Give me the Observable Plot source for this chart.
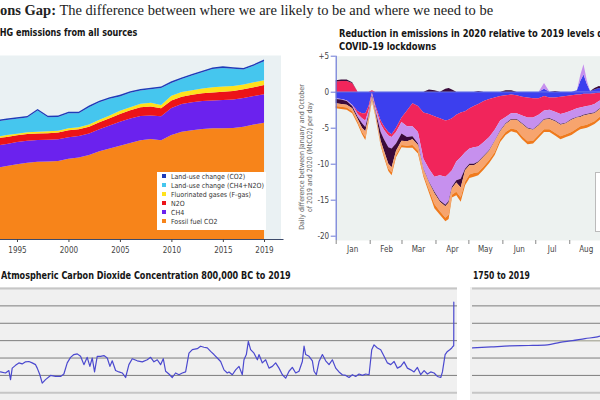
<!DOCTYPE html>
<html><head><meta charset="utf-8">
<script src="https://cdn.jsdelivr.net/npm/d3@7"></script>
<script src="https://cdn.jsdelivr.net/npm/@observablehq/plot@0.6"></script>
<style>
html,body{margin:0;padding:0;background:#fff;}
body{width:600px;height:400px;overflow:hidden;position:relative;}
.abs{position:absolute;white-space:nowrap;}
.cond{font-family:"Liberation Sans Narrow","DejaVu Sans Condensed","Roboto Condensed","Roboto",sans-serif;}
.ttl{font-weight:bold;font-size:10px;color:#151515;line-height:13px;transform:scaleX(0.9);transform-origin:0 0;}
.main{font-family:"Liberation Serif","DejaVu Serif",serif;font-size:14.5px;color:#222;line-height:16px;}
.leg{background:#fff;font-size:7px;color:#333;line-height:9px;}
.leg div{height:9px;}
.sw{display:inline-block;width:4px;height:4px;margin-right:5px;vertical-align:middle;position:relative;top:-1px;}
</style></head><body>
<div class="abs main" data-cut="0" style="top:2px"><b><span class="cut">Emissi</span>ons Gap:</b> The difference between where we are likely to be and where we need to be</div>
<div class="abs cond ttl" data-cut="0" style="top:26px"><span class="cut">G</span>HG emissions from all sources</div>
<div class="abs cond ttl" style="left:339px;top:27px;transform:scaleX(0.93)">Reduction in emissions in 2020 relative to 2019 levels due to<br>COVID-19 lockdowns</div>
<div class="abs cond ttl" style="left:1px;top:269px">Atmospheric Carbon Dioxide Concentration 800,000 BC to 2019</div>
<div class="abs cond ttl" style="left:473px;top:269px;transform:scaleX(0.85)">1750 to 2019</div>
<div id="p1" class="abs" style="left:-45px;top:45px;width:331px"></div>
<div id="p2" class="abs" style="left:300px;top:45px;width:437px"></div>
<div id="p3" class="abs" style="left:-60px;top:287px;width:517px"></div>
<div id="p4" class="abs" style="left:470px;top:287px;width:177px"></div>
<div id="leg1" class="abs cond leg" style="left:157px;top:172px;width:104px;height:57px;padding:1px 0 0 5px"></div>
<div id="leg2" class="abs cond leg" style="left:595px;top:172px;width:100px;height:56px;border:1px solid #bbb;padding:2px 0 0 6px"></div>
<div class="abs cond" style="left:228px;top:149px;width:156px;transform:rotate(-90deg);transform-origin:center;text-align:center;font-size:7px;line-height:8px;color:#666">Daily difference between January and October<br>of 2019 and 2020 (MtCO2) per day</div>
<script>
// ---------- Panel 1: GHG emissions (GtCO2e) ----------
const ghgYears = [1990,1991,1992,1993,1994,1995,1996,1997,1998,1999,2000,2001,2002,2003,2004,2005,2006,2007,2008,2009,2010,2011,2012,2013,2014,2015,2016,2017,2018,2019];
const fossilCO2 = [22.6,22.9,22.8,23.2,23.8,24.4,24.9,25.2,25.3,25.4,26.2,26.6,27.4,28.6,29.5,30.4,31.3,32.2,32.6,32.2,33.9,35.0,35.5,35.9,36.1,36.1,36.2,36.6,37.3,37.9];
const ch4 = [7.4,7.3,7.4,7.3,7.2,7.2,7.1,7.1,7.1,7.1,7.0,7.0,7.0,7.2,7.5,7.8,8.0,7.9,7.7,7.8,8.8,9.0,9.1,9.1,9.1,9.2,9.3,9.4,9.3,9.3];
const n2o = [2.2,2.2,2.2,2.3,2.3,2.2,2.2,2.1,2.1,2.2,2.3,2.2,2.2,2.3,2.4,2.6,2.7,2.9,2.9,2.6,2.5,2.4,2.4,2.5,2.6,2.7,2.8,2.8,2.9,3.0];
const fGas = [0.5,0.5,0.5,0.5,0.6,0.5,0.6,0.6,0.6,0.6,0.6,0.6,0.7,0.8,0.9,1.0,1.0,1.1,1.2,1.1,1.5,1.5,1.5,1.6,1.7,1.7,1.6,1.6,1.6,1.6];
const lucOther = [5.2,5.2,5.1,5.0,4.9,4.9,4.8,6.9,4.6,4.5,4.9,4.6,5.7,5.7,5.4,4.7,4.7,4.3,4.4,5.5,4.2,4.3,4.8,5.3,5.9,6.1,5.6,4.9,5.4,6.2];
const lucCO2 = [0.5,0.5,0.5,0.5,0.5,0.5,0.5,0.5,0.5,0.5,0.5,0.5,0.5,0.5,0.5,0.5,0.5,0.5,0.5,0.5,0.5,0.5,0.5,0.5,0.5,0.5,0.5,0.5,0.5,0.5];
const ghgNames = ["Fossil fuel CO2","CH4","N2O","Fluorinated gases (F-gas)","Land-use change (CH4+N2O)","Land-use change (CO2)"];
const ghgColors = ["#f7841a","#6b22ee","#ec1318","#ffe21c","#45c6ee","#1f3cb8"];
const ghgTickYears = [1995,2000,2005,2010,2015,2019];

// ---------- Panel 2: COVID-19 daily reductions (MtCO2/day) ----------
const monthNames = ["Jan","Feb","Mar","Apr","May","Jun","Jul","Aug","Sep","Oct","Nov","Dec"];
const covidDay = [0,5,10,15,20,24,27,30,33,36,41,44,48,51,55,60,65,70,75,80,85,90,95,100,103,106,110,114,118,122,126,130,135,140,145,150,155,160,165,170,175,180,185,190,195,200,205,210,215,220,223,226,229,232,236,240,245];
const industryNeg = [-0.9,-1.0,-1.2,-1.8,-2.7,-3.0,-3.0,-2.0,-0.1,-1.8,-4.0,-4.8,-5.6,-5.9,-5.0,-3.6,-2.6,-1.6,-2.0,-2.9,-3.1,-3.4,-3.7,-4.0,-3.9,-3.7,-3.2,-2.9,-2.7,-2.3,-2.0,-1.7,-1.3,-1.0,-0.8,-0.6,-0.5,-0.4,-0.5,-0.7,-0.8,-0.9,-0.9,-0.6,-0.8,-0.8,-0.7,-0.6,-0.5,-0.4,-0.4,-0.3,-0.3,-0.3,-0.2,-0.1,-0.1];
const industryPos = [0,0,0,0,0,0,0,0,0,0,0,0,0,0,0,0,0,0,0,0,0,0,0,0,0,0,0,0,0,0,0,0,0,0,0,0,0,0,0,0,0,0,0,0.4,0,0,0,0,0,0.2,1.5,2.4,1.1,0.1,0.3,0.5,0.4];
const transportNeg = [0,0,0,0,-0.4,-0.7,-1.0,-0.6,-0.1,-0.3,-0.5,-0.5,-0.5,-0.4,-0.6,-0.6,-2.2,-3.2,-3.6,-6.4,-7.6,-8.4,-7.9,-7.8,-7.5,-7.2,-6.5,-6.2,-5.7,-5.6,-5.7,-5.9,-5.7,-5.3,-4.5,-3.4,-3.0,-2.6,-2.5,-2.6,-2.8,-2.7,-2.3,-2.0,-1.7,-2.0,-2.4,-2.3,-2.1,-1.9,-1.8,-1.8,-1.7,-1.6,-1.5,-1.2,-0.9];
const transportPos = [1.4,1.5,1.5,1.2,0,0,0,0,0.2,0,0,0,0,0,0,0,0,0,0,0,0,0,0,0,0,0,0,0,0,0,0,0,0,0,0,0,0,0,0,0,0,0,0,0,0,0,0,0,0,0,0,0,0,0,0,0,0];
const powerNeg = [-0.1,-0.1,-0.1,-0.2,-0.4,-0.7,-0.9,-0.5,-0.3,-0.4,-1.1,-1.3,-1.6,-1.6,-1.6,-1.6,-1.5,-1.4,-1.6,-1.4,-1.8,-2.1,-3.5,-3.9,-3.8,-2.3,-2.6,-3.0,-2.3,-2.1,-2.3,-2.1,-1.9,-1.8,-1.5,-1.4,-0.9,-0.8,-0.8,-1.1,-1.4,-1.6,-1.4,-1.2,-1.2,-1.2,-1.4,-1.4,-1.2,-1.2,-1.2,-1.1,-1.1,-1.1,-1.2,-1.1,-0.9];
const powerPos = [0,0,0,0,0,0,0,0,0,0,0,0,0,0,0,0,0,0,0,0,0,0,0,0,0,0,0,0,0,0,0,0,0,0,0,0,0,0,0,0,0,0,0,0.8,0,0,0,0,0,0,0.8,1.4,0.5,0,0,0,0];
const residentialNeg = [-0.6,-0.6,-0.5,-0.3,-0.3,-0.6,-0.6,-0.3,-0.2,-0.2,-1.2,-1.6,-2.3,-2.6,-1.0,-1.0,-0.6,-0.4,-0.2,-0.1,-0.1,-0.2,-0.2,-0.2,-0.2,-0.2,-0.3,-1.2,-0.2,-0.2,-0.2,-0.1,-0.1,-0.1,-0.1,-0.1,-0.1,-0.1,-0.1,-0.1,-0.1,-0.1,-0.1,-0.1,-0.1,-0.1,-0.1,-0.1,-0.1,-0.1,-0.1,-0.1,-0.1,-0.1,-0.1,-0.1,-0.1];
const residentialPos = [0.2,0.2,0.2,0.1,0,0,0,0,0,0,0,0,0,0,0,0,0,0,0,0,0.3,0.2,0,0.4,0.5,0.3,0,0,0,0,0,0.1,0,0,0,0,0.2,0.2,0,0,0,0,0,0,0,0.1,0,0,0,0,0,0,0,0,0.2,0.3,0.2];
const publicNeg = [-0.4,-0.4,-0.4,-0.4,-0.4,-0.6,-0.8,-0.5,-0.4,-0.4,-0.5,-0.6,-0.7,-0.7,-0.6,-0.6,-0.6,-0.8,-0.8,-0.7,-1.0,-1.5,-1.3,-1.6,-1.7,-0.9,-1.3,-1.4,-1.6,-1.3,-1.1,-1.4,-1.4,-1.3,-1.5,-1.1,-1.1,-1.2,-1.4,-1.7,-1.8,-1.5,-1.3,-1.3,-1.4,-1.6,-1.6,-1.5,-1.7,-1.5,-1.3,-1.4,-1.4,-1.3,-1.1,-1.1,-1.0];
const aviationNeg = [-0.3,-0.3,-0.3,-0.3,-0.3,-0.3,-0.4,-0.3,-0.2,-0.2,-0.2,-0.3,-0.3,-0.4,-0.3,-0.3,-0.3,-0.4,-0.4,-0.3,-0.4,-0.6,-0.5,-0.5,-0.6,-0.4,-0.5,-0.6,-0.5,-0.5,-0.5,-0.4,-0.4,-0.4,-0.4,-0.4,-0.4,-0.4,-0.4,-0.4,-0.4,-0.4,-0.4,-0.4,-0.4,-0.4,-0.4,-0.4,-0.4,-0.4,-0.4,-0.4,-0.4,-0.4,-0.4,-0.4,-0.4];
const sectorNames = ["Industry","Surface transport","Power","Residential","Public buildings & commerce","Aviation"];
const sectorColors = ["#3c3fee","#f1255b","#c690ee","#3b0a3a","#f7a46e","#f07a1c"];
const sectorNeg = [industryNeg, transportNeg, powerNeg, residentialNeg, publicNeg, aviationNeg];
const sectorPos = [industryPos, transportPos, powerPos, residentialPos, null, null];

// ---------- Panel 3: Ice-core CO2 (ppm) ----------
const iceKyrBP = [728.3,720.3,714.9,712.2,709.5,704.2,698.8,693.5,688.1,682.7,677.4,672.0,669.3,665.1,661.3,656.0,647.9,639.9,631.8,626.5,621.1,615.8,610.4,605.0,599.7,594.3,589.0,584.7,580.9,577.2,572.9,567.5,562.2,556.8,552.5,548.8,543.4,538.1,532.7,527.3,522.0,516.6,508.6,500.5,492.5,487.1,481.8,476.4,471.1,466.8,463.0,457.7,452.3,447.0,441.6,436.2,430.9,425.5,420.1,412.1,406.8,401.4,396.0,390.7,385.3,380.0,374.6,369.2,363.9,361.2,355.8,350.5,345.1,339.8,337.1,333.3,330.1,326.4,321.0,315.6,313.0,307.6,302.3,296.9,291.5,286.2,280.8,275.4,270.1,264.7,259.4,254.0,248.7,243.3,240.6,237.9,232.6,227.2,224.5,220.8,216.5,211.1,205.8,200.4,195.1,189.7,184.4,179.0,173.6,168.3,162.9,157.6,152.2,146.8,141.5,136.1,131.8,128.1,122.7,117.4,112.0,106.6,101.3,95.9,90.6,85.2,79.9,74.5,69.1,63.8,58.4,53.1,47.7,42.3,37.0,31.6,26.3,20.9,18.2,13.9,10.2,6.4,3.2,1.1,0.1,0.0,-0.069];
const iceCO2 = [210,207,214,188,221,229,236,233,239,240,236,231,221,202,178,188,200,197,197,204,236,252,260,262,255,231,252,226,250,210,255,255,257,250,226,242,214,210,207,194,231,248,242,239,245,252,239,245,231,248,212,204,194,207,202,207,210,264,274,277,284,281,279,269,260,250,240,216,207,210,202,216,226,202,245,260,298,274,264,245,260,236,245,221,226,236,221,202,192,212,223,207,212,240,284,260,255,242,212,202,240,260,242,231,245,221,210,202,200,194,202,197,204,200,204,202,274,288,279,274,255,236,231,240,221,226,239,221,216,210,223,202,214,204,210,207,197,194,210,260,269,274,279,284,285,311,411];
const ppmGrid = [200,250,300,350,400];
const ppmEdge = [150,450];

// ---------- Panel 4: 1750–2019 ----------
const indYears = [1750,1780,1810,1840,1870,1890,1910,1930,1950,1960,1970,1980,1990,2000,2010,2019];
const indCO2 = [279,282,285,286,288,295,300,306,311,316,325,338,354,369,389,411];

const condFont = '"Liberation Sans Narrow","DejaVu Sans Condensed","Roboto Condensed","Roboto",sans-serif';

// ----- Panel 1 -----
const ghgSeries = [fossilCO2, ch4, n2o, fGas, lucOther, lucCO2];
const ghgRows = ghgSeries.flatMap((vals, k) => ghgYears.map((yr, i) => ({year: yr, series: ghgNames[k], value: vals[i]})));
document.getElementById("p1").append(Plot.plot({
  width: 331, height: 214, marginLeft: 10.5, marginRight: 5.5, marginTop: 10, marginBottom: 20,
  style: {fontFamily: condFont, fontSize: "8px", color: "#444", background: "transparent", maxWidth: "none"},
  x: {domain: [1990, 2020.6]},
  y: {domain: [0, 60], axis: null},
  color: {domain: ghgNames, range: ghgColors},
  marks: [
    Plot.frame({fill: "#eaf1f3", stroke: "none"}),
    Plot.areaY(ghgRows, {x: "year", y: "value", z: "series", fill: "series", order: ghgNames}),
    Plot.ruleY([0], {stroke: "#3d4b6b", strokeWidth: 1, insetRight: -3}),
    Plot.axisX({ticks: ghgTickYears, tickFormat: d => String(d), tickSize: 3, tickPadding: 5, label: null})
  ]
}));
document.getElementById("leg1").innerHTML = ghgNames.slice().reverse().map((n, i) =>
  `<div><span class="sw" style="background:${ghgColors[ghgColors.length-1-i]}"></span>${n}</div>`).join("");

// ----- Panel 2 -----
const dayDate = d => new Date(Date.UTC(2020, 0, 1 + d));
const covidRows = [];
const keyOrder = [];
sectorNames.forEach((s, k) => { keyOrder.push(s + "-"); });
sectorNames.forEach((s, k) => { if (sectorPos[k]) keyOrder.push(s + "+"); });
sectorNames.forEach((s, k) => {
  covidDay.forEach((d, i) => {
    covidRows.push({date: dayDate(d), key: s + "-", sector: s, value: sectorNeg[k][i] || -1e-9});
    if (sectorPos[k]) covidRows.push({date: dayDate(d), key: s + "+", sector: s, value: sectorPos[k][i] || 1e-9});
  });
});
const monthStarts = monthNames.map((m, i) => new Date(Date.UTC(2020, i, 1)));
const monthMids = monthNames.map((m, i) => new Date(Date.UTC(2020, i, 16)));
document.getElementById("p2").append(Plot.plot({
  width: 437, height: 215, marginLeft: 35.7, marginRight: 0, marginTop: 10.7, marginBottom: 20,
  style: {fontFamily: condFont, fontSize: "8px", color: "#444", background: "transparent", maxWidth: "none"},
  x: {type: "utc", domain: [new Date(Date.UTC(2020,0,1)), new Date(Date.UTC(2021,0,1))]},
  y: {domain: [-20.6, 5]},
  color: {domain: sectorNames, range: sectorColors},
  marks: [
    Plot.frame({fill: "#edf2f0", stroke: "none"}),
    Plot.areaY(covidRows, {x: "date", y: "value", z: "key", fill: "sector", order: keyOrder}),
    Plot.ruleY([0], {stroke: "#5865e6", strokeWidth: 1}),
    Plot.ruleX([monthStarts[0]], {stroke: "#6b78d6", strokeWidth: 1.2}),
    Plot.axisY({ticks: [5,0,-5,-10,-15,-20], tickFormat: d => d > 0 ? "+" + d : String(d), tickSize: 5, tickPadding: 2, stroke: "#6b78d6", label: null}),
    Plot.axisX({ticks: monthStarts, tickFormat: () => "", tickSize: 4, label: null, stroke: "#888"}),
    Plot.axisX({ticks: monthMids, tickFormat: d => monthNames[d.getUTCMonth()], tickSize: 0, tickPadding: 6, label: null})
  ]
}));
document.getElementById("leg2").innerHTML = sectorNames.map((n, i) =>
  `<div><span class="sw" style="background:${sectorColors[i]}"></span>${n}</div>`).join("");

// ----- Panel 3 -----
const iceRows = iceKyrBP.map((k, i) => ({t: -k, ppm: iceCO2[i]}));
document.getElementById("p3").append(Plot.plot({
  width: 517, height: 116, marginLeft: 15.4, marginRight: 0, marginTop: 1, marginBottom: 10.7,
  style: {background: "#f0f0f0", maxWidth: "none"},
  x: {domain: [-800, 6], axis: null},
  y: {domain: [150, 450], axis: null},
  marks: [
    Plot.ruleY(ppmEdge, {stroke: "#c6c6c6", strokeWidth: 2}),
    Plot.ruleY(ppmGrid, {stroke: "#7d7d7d", strokeWidth: 1}),
    Plot.line(iceRows, {x: "t", y: "ppm", stroke: "#4b49cf", strokeWidth: 1.2})
  ]
}));

// ----- Panel 4 -----
const indRows = indYears.map((y, i) => ({year: y, ppm: indCO2[i]}));
document.getElementById("p4").append(Plot.plot({
  width: 177, height: 116, marginLeft: 2, marginRight: 0, marginTop: 1, marginBottom: 10.7,
  style: {background: "#f0f0f0", maxWidth: "none"},
  x: {domain: [1750, 2030], axis: null},
  y: {domain: [150, 450], axis: null},
  marks: [
    Plot.ruleY(ppmEdge, {stroke: "#c6c6c6", strokeWidth: 2}),
    Plot.ruleY([200,250,350,400], {stroke: "#7d7d7d", strokeWidth: 1}),
    Plot.ruleY([300], {stroke: "#b5b5a8", strokeWidth: 1.5}),
    Plot.line(indRows, {x: "year", y: "ppm", stroke: "#4b49cf", strokeWidth: 1.2, curve: "monotone-x"})
  ]
}));

// shift titles whose beginning is cut off
for (const el of document.querySelectorAll("[data-cut]")) {
  const cut = el.querySelector(".cut");
  el.style.left = (-cut.getBoundingClientRect().width + parseFloat(el.dataset.cut)) + "px";
}
</script>
</body></html>
